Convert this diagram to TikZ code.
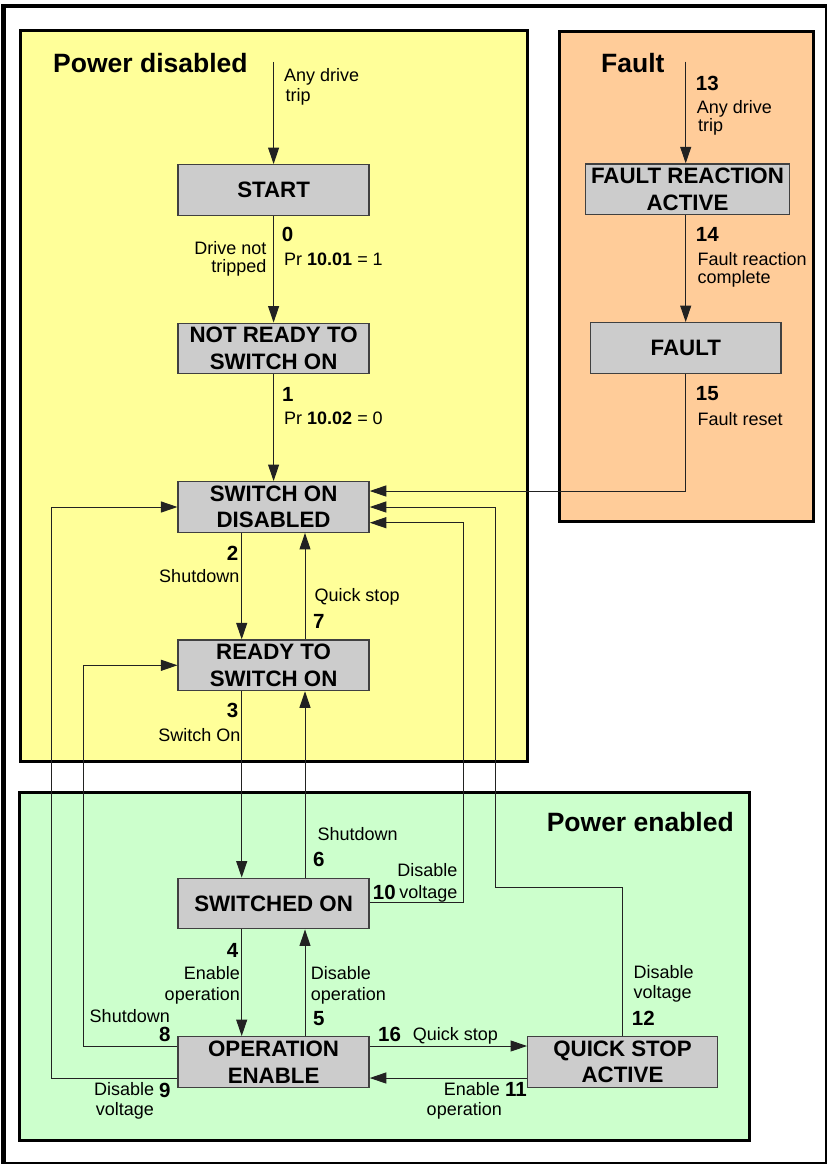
\documentclass[tikz,border=0pt]{standalone}
\usepackage{fontspec}
\setmainfont{Liberation Sans}
\usetikzlibrary{arrows.meta,calc}
\definecolor{pdis}{HTML}{FFFF99}
\definecolor{pflt}{HTML}{FFCC99}
\definecolor{pen}{HTML}{CCFFCC}
\definecolor{stbox}{HTML}{CCCCCC}
\definecolor{stedge}{HTML}{404040}
\definecolor{wire}{HTML}{222222}
\begin{document}
\begin{tikzpicture}[x=1pt,y=-1pt,
  panel/.style={draw=black, line width=3pt},
  state/.style={draw=stedge, line width=1.3pt, fill=stbox, minimum width=191pt, minimum height=50.6pt, inner sep=0pt, align=center, font=\fontsize{22.3}{26.6}\selectfont\bfseries},
  arr/.style={draw=wire, line width=1pt, -{Triangle[length=16.5pt,width=11pt]}},
  lbl/.style={inner sep=0pt, font=\fontsize{18}{19}\selectfont},
  num/.style={inner sep=0pt, font=\fontsize{20.5}{22}\selectfont\bfseries},
  ttl/.style={inner sep=0pt, font=\fontsize{26.5}{28}\selectfont\bfseries}]
\useasboundingbox (0,0) rectangle (828,1164);
\fill[white] (0,0) rectangle (828,1164);
% outer frame
\draw[line width=2pt] (825.5,5.8) -- (825.5,1162.8) -- (3.7,1162.8);
\draw[line width=4.5pt] (3.7,1164) -- (3.7,5.8) -- (827,5.8);
% panels
\draw[panel, fill=pdis] (20,31) rectangle (527,761);
\draw[panel, fill=pflt] (559,32) rectangle (813,521);
\draw[panel, fill=pen] (19.5,792.3) rectangle (749.3,1140.7);
% titles
\node[ttl, anchor=base west] (tdis) at (53,73) {Power disabled};
\node[ttl, anchor=base west] (tflt) at (601,73) {Fault};
\node[ttl, anchor=base east] (ten) at (734,831) {Power enabled};
% coordinates
\coordinate (s0) at (273.6,62);
\coordinate (s13) at (685.7,61.7);
\coordinate (c2) at (241.7,0);
\coordinate (c7) at (305,0);
\coordinate (yA) at (0,1046);
\coordinate (yB) at (0,1078);
\coordinate (x8) at (83,0);
\coordinate (x9) at (51.7,0);
\coordinate (x10) at (463.3,0);
\coordinate (y10) at (0,902.7);
\coordinate (y10b) at (0,522.7);
\coordinate (x12) at (622.3,0);
\coordinate (y12) at (0,887.3);
\coordinate (x12b) at (495.5,0);
\coordinate (y15) at (0,491);
% states
\node[state] (start) at (273.6,190) {START};
\node[state] (nr) at (273.6,348.5) {NOT READY TO\\SWITCH ON};
\node[state] (sod) at (273.6,507) {SWITCH ON\\DISABLED};
\node[state] (ready) at (273.6,665.3) {READY TO\\SWITCH ON};
\node[state] (swon) at (273.6,903.5) {SWITCHED ON};
\node[state] (oe) at (273.6,1062) {OPERATION\\ENABLE};
\node[state, minimum width=203.6pt] (fra) at (687.5,189.3) {FAULT REACTION\\ACTIVE};
\node[state, minimum width=190.3pt] (flt) at (685.8,348) {FAULT};
\node[state, minimum width=189.6pt] (qsa) at (622.5,1062) {QUICK STOP\\ACTIVE};
% connectors
\draw[arr] (s0) -- (start.north);
\draw[arr] (start.south) -- (nr.north);
\draw[arr] (nr.south) -- (sod.north);
\draw[arr] (sod.south -| c2) -- (ready.north -| c2);
\draw[arr] (ready.north -| c7) -- (sod.south -| c7);
\draw[arr] (ready.south -| c2) -- (swon.north -| c2);
\draw[arr] (swon.north -| c7) -- (ready.south -| c7);
\draw[arr] (swon.south -| c2) -- (oe.north -| c2);
\draw[arr] (oe.north -| c7) -- (swon.south -| c7);
\draw[arr] (oe.east |- yA) -- (qsa.west |- yA);
\draw[arr] (qsa.west |- yB) -- (oe.east |- yB);
\draw[arr] (oe.west |- yA) -- (x8 |- yA) -- (x8 |- ready.west) -- (ready.west);
\draw[arr] (oe.west |- yB) -- (x9 |- yB) -- (x9 |- sod.west) -- (sod.west);
\draw[arr] (swon.east |- y10) -- (x10 |- y10) -- (x10 |- y10b) -- (sod.east |- y10b);
\draw[arr] (qsa.north -| x12) -- (x12 |- y12) -- (x12b |- y12) -- (x12b |- sod.east) -- (sod.east);
\draw[arr] (flt.south -| s13) -- (s13 |- y15) -- (sod.east |- y15);
\draw[arr] (s13) -- (fra.north -| s13);
\draw[arr] (fra.south -| s13) -- (flt.north -| s13);
% labels: power disabled
\node[lbl, anchor=base west] (la1) at (284,81.7) {Any drive};
\node[lbl, anchor=base west] (la2) at (285.5,101.5) {trip};
\node[num, anchor=base west] (n0) at (281.7,241.7) {0};
\node[lbl, anchor=base west] (l0a) at (284,265.7) {Pr \textbf{10.01} = 1};
\node[lbl, anchor=base east] (l0b) at (266.7,254) {Drive not};
\node[lbl, anchor=base east] (l0c) at (266.7,272) {tripped};
\node[num, anchor=base west] (n1) at (282,401) {1};
\node[lbl, anchor=base west] (l1) at (284,424.3) {Pr \textbf{10.02} = 0};
\node[num, anchor=base east] (n2) at (238.5,560) {2};
\node[lbl, anchor=base east] (l2) at (239.5,582.7) {Shutdown};
\node[lbl, anchor=base west] (l7) at (314.3,601.7) {Quick stop};
\node[num, anchor=base west] (n7) at (313,628) {7};
\node[num, anchor=base east] (n3) at (238.5,717) {3};
\node[lbl, anchor=base east] (l3) at (240.7,741.7) {Switch On};
% labels: fault
\node[num, anchor=base west] (n13) at (695.7,90) {13};
\node[lbl, anchor=base west] (l13a) at (696.7,113.3) {Any drive};
\node[lbl, anchor=base west] (l13b) at (698,131.5) {trip};
\node[num, anchor=base west] (n14) at (695.7,241.7) {14};
\node[lbl, anchor=base west] (l14a) at (697.3,265) {Fault reaction};
\node[lbl, anchor=base west] (l14b) at (697.3,283.5) {complete};
\node[num, anchor=base west] (n15) at (695.7,400) {15};
\node[lbl, anchor=base west] (l15) at (697.3,425) {Fault reset};
% labels: power enabled
\node[lbl, anchor=base west] (l6) at (317.3,840) {Shutdown};
\node[num, anchor=base west] (n6) at (313,866.7) {6};
\node[lbl, anchor=base east] (l10a) at (457.7,876.7) {Disable};
\node[lbl, anchor=base east] (l10b) at (457.7,898) {voltage};
\node[num, anchor=base west] (n10) at (372.7,899) {10};
\node[num, anchor=base east] (n4) at (238.5,957) {4};
\node[lbl, anchor=base east] (l4a) at (240,979) {Enable};
\node[lbl, anchor=base east] (l4b) at (240,1000) {operation};
\node[lbl, anchor=base west] (l5a) at (310.7,979) {Disable};
\node[lbl, anchor=base west] (l5b) at (310.7,1000) {operation};
\node[num, anchor=base west] (n5) at (313,1025.7) {5};
\node[lbl, anchor=base east] (l8) at (170,1022.7) {Shutdown};
\node[num, anchor=base east] (n8) at (170.7,1041.7) {8};
\node[lbl, anchor=base west] (l9a) at (94,1095.7) {Disable};
\node[num, anchor=base west] (n9) at (159,1097.5) {9};
\node[lbl, anchor=base west] (l9b) at (95.7,1115) {voltage};
\node[num, anchor=base west] (n16) at (378,1041.7) {16};
\node[lbl, anchor=base west] (l16) at (412.7,1040) {Quick stop};
\node[lbl, anchor=base east] (l11a) at (500,1095) {Enable};
\node[num, anchor=base west] (n11) at (505,1096.5) {11};
\node[lbl, anchor=base east] (l11b) at (502,1115.7) {operation};
\node[lbl, anchor=base west] (l12a) at (633.3,978.7) {Disable};
\node[lbl, anchor=base west] (l12b) at (633.3,998.5) {voltage};
\node[num, anchor=base west] (n12) at (631.7,1025.5) {12};
\end{tikzpicture}
\end{document}
